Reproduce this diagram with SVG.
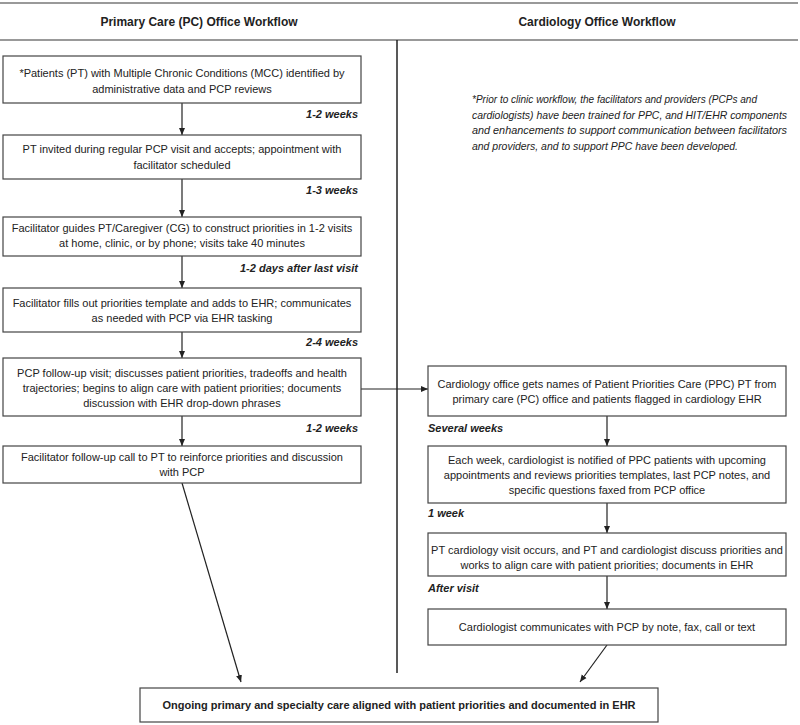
<svg xmlns="http://www.w3.org/2000/svg" width="800" height="725" viewBox="0 0 800 725">
<defs>
<marker id="ah" markerWidth="8" markerHeight="8" refX="7" refY="4" orient="auto" markerUnits="userSpaceOnUse">
<path d="M0,1 L7,4 L0,7 z" fill="#222"/>
</marker>
<style>
.box{fill:#fff;stroke:#444;stroke-width:1.2}
.t{font-family:"Liberation Sans",Arial,sans-serif;font-size:11px;fill:#222;text-anchor:middle}
.h{font-family:"Liberation Sans",Arial,sans-serif;font-size:12px;font-weight:bold;fill:#222;text-anchor:middle}
.lbl{font-family:"Liberation Sans",Arial,sans-serif;font-size:11px;font-weight:bold;font-style:italic;fill:#222}
.note{font-family:"Liberation Sans",Arial,sans-serif;font-size:10.4px;font-style:italic;fill:#222}
.c{stroke:#222;stroke-width:1.2;fill:none;marker-end:url(#ah)}
.rule{stroke:#777;stroke-width:1.5}
</style>
</defs>
<rect width="800" height="725" fill="#fff"/>
<g id="frame">
<line class="rule" x1="0" y1="3" x2="798" y2="3"/>
<line class="rule" x1="0" y1="40" x2="798" y2="40"/>
<line x1="397" y1="40" x2="397" y2="673" stroke="#222" stroke-width="1.5"/>
<text class="h" x="199" y="26">Primary Care (PC) Office Workflow</text>
<text class="h" x="597" y="26">Cardiology Office Workflow</text>
</g>
<g id="note">
<text class="note" x="472" y="103" textLength="285" lengthAdjust="spacingAndGlyphs">*Prior to clinic workflow, the facilitators and providers (PCPs and</text>
<text class="note" x="472" y="119" textLength="315" lengthAdjust="spacingAndGlyphs">cardiologists) have been trained for PPC, and HIT/EHR components</text>
<text class="note" x="472" y="134" textLength="315" lengthAdjust="spacingAndGlyphs">and enhancements to support  communication between facilitators</text>
<text class="note" x="472" y="150" textLength="266" lengthAdjust="spacingAndGlyphs">and providers, and to support PPC have been developed.</text>
</g>
<g id="connectors">
<line class="c" x1="182" y1="103" x2="182" y2="135"/>
<line class="c" x1="182" y1="179" x2="182" y2="217"/>
<line class="c" x1="182" y1="256" x2="182" y2="288"/>
<line class="c" x1="182" y1="332" x2="182" y2="358"/>
<line class="c" x1="182" y1="416" x2="182" y2="446"/>
<line class="c" x1="182" y1="483" x2="241" y2="682"/>
<line class="c" x1="361" y1="389" x2="428" y2="389"/>
<line class="c" x1="607" y1="416" x2="607" y2="446"/>
<line class="c" x1="607" y1="503" x2="607" y2="533"/>
<line class="c" x1="607" y1="576" x2="607" y2="609"/>
<line class="c" x1="607" y1="645" x2="580" y2="682"/>
</g>
<g id="labels">
<text class="lbl" x="358" y="118" text-anchor="end">1-2 weeks</text>
<text class="lbl" x="358" y="194" text-anchor="end">1-3 weeks</text>
<text class="lbl" x="358" y="272" text-anchor="end">1-2 days after last visit</text>
<text class="lbl" x="358" y="346" text-anchor="end">2-4 weeks</text>
<text class="lbl" x="358" y="432" text-anchor="end">1-2 weeks</text>
<text class="lbl" x="428" y="432">Several weeks</text>
<text class="lbl" x="428" y="517">1 week</text>
<text class="lbl" x="428" y="592">After visit</text>
</g>
<g id="pc1">
<rect class="box" x="3" y="56" width="358" height="47"/>
<text class="t" x="182" y="77">*Patients (PT) with Multiple Chronic Conditions (MCC) identified by</text>
<text class="t" x="182" y="93">administrative data and PCP reviews</text>
</g>
<g id="pc2">
<rect class="box" x="3" y="135" width="358" height="44"/>
<text class="t" x="182" y="153">PT invited during regular PCP visit and accepts; appointment  with</text>
<text class="t" x="182" y="169">facilitator scheduled</text>
</g>
<g id="pc3">
<rect class="box" x="3" y="217" width="358" height="39"/>
<text class="t" x="182" y="232">Facilitator guides PT/Caregiver (CG) to construct priorities in 1-2 visits</text>
<text class="t" x="182" y="247">at home, clinic, or by phone;  visits take 40 minutes</text>
</g>
<g id="pc4">
<rect class="box" x="3" y="288" width="358" height="44"/>
<text class="t" x="182" y="307">Facilitator fills out priorities template and adds to EHR;  communicates</text>
<text class="t" x="182" y="322">as needed with PCP via EHR tasking</text>
</g>
<g id="pc5">
<rect class="box" x="3" y="358" width="358" height="58"/>
<text class="t" x="182" y="377">PCP follow-up visit; discusses patient priorities, tradeoffs and health</text>
<text class="t" x="182" y="392">trajectories; begins to align care with patient priorities; documents</text>
<text class="t" x="182" y="407">discussion with EHR  drop-down  phrases</text>
</g>
<g id="pc6">
<rect class="box" x="3" y="446" width="358" height="37"/>
<text class="t" x="182" y="461">Facilitator follow-up call to PT to reinforce priorities and  discussion</text>
<text class="t" x="182" y="476">with PCP</text>
</g>
<g id="cd1">
<rect class="box" x="428" y="366" width="358" height="50"/>
<text class="t" x="607" y="388">Cardiology office gets names of Patient Priorities Care (PPC) PT from</text>
<text class="t" x="607" y="403">primary care (PC) office and patients flagged in cardiology EHR</text>
</g>
<g id="cd2">
<rect class="box" x="428" y="446" width="358" height="57"/>
<text class="t" x="607" y="464">Each week,  cardiologist is notified of PPC patients with  upcoming</text>
<text class="t" x="607" y="479">appointments  and reviews priorities  templates, last PCP notes, and</text>
<text class="t" x="607" y="494">specific questions faxed from  PCP office</text>
</g>
<g id="cd3">
<rect class="box" x="428" y="533" width="358" height="43"/>
<text class="t" x="607" y="554">PT cardiology visit occurs, and PT and cardiologist discuss priorities and</text>
<text class="t" x="607" y="569">works  to align care with patient priorities;  documents  in EHR</text>
</g>
<g id="cd4">
<rect class="box" x="428" y="609" width="358" height="36"/>
<text class="t" x="607" y="631">Cardiologist communicates  with PCP by note,  fax, call or text</text>
</g>
<g id="final">
<rect class="box" x="140" y="688" width="518" height="34"/>
<text class="t" x="399" y="709" font-weight="bold" font-size="11.2">Ongoing primary and specialty care aligned with patient priorities and documented in EHR</text>
</g>
</svg>
